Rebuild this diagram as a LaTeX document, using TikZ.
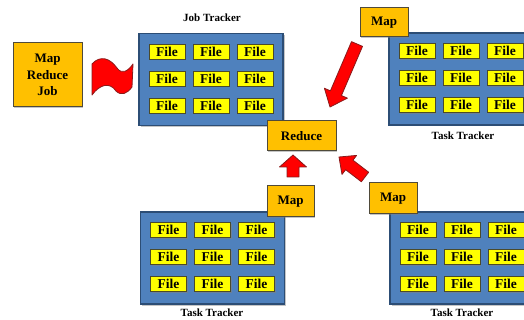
\documentclass[tikz,border=0pt]{standalone}
\usepackage{fontspec}
\setmainfont{Liberation Serif}
\usetikzlibrary{calc,shadows}
\definecolor{panelblue}{HTML}{4F81BD}
\definecolor{paneledge}{HTML}{2C4D75}
\definecolor{fileyellow}{HTML}{FFFF00}
\definecolor{fileedge}{HTML}{4A4A2A}
\definecolor{mapgold}{HTML}{FFC000}
\definecolor{mapedge}{HTML}{4F4A3A}
\definecolor{arrowred}{HTML}{FF0000}
\definecolor{arrowedge}{HTML}{8A1A1A}

\tikzset{
  panel/.style={draw=paneledge,line width=1.2pt,fill=panelblue,minimum width=144pt,
    minimum height=92pt,inner sep=0pt,
    drop shadow={shadow xshift=1.5pt,shadow yshift=-1.5pt,opacity=0.45}},
  filebox/.style={draw=fileedge,line width=0.8pt,fill=fileyellow,minimum width=36pt,
    minimum height=15pt,inner sep=0pt,font=\fontsize{13.5}{14}\selectfont\bfseries,
    drop shadow={shadow xshift=1.2pt,shadow yshift=-1.2pt,opacity=0.6}},
  mapbox/.style={draw=mapedge,line width=1pt,fill=mapgold,inner sep=0pt,align=center,
    font=\fontsize{13}{16.5}\selectfont\bfseries,
    drop shadow={shadow xshift=1.2pt,shadow yshift=-1.2pt,opacity=0.45}},
  tracker/.style={font=\fontsize{11}{12}\selectfont\bfseries},
  redarrow/.style={draw=arrowedge,line width=0.8pt,fill=arrowred,line join=round}
}

% block arrow: tail, tip, half shaft, half head, head length
\newcommand{\blockarrow}[5]{%
  \coordinate (ba-base) at ($(#2)!#5!(#1)$);
  \draw[redarrow] ($(#1)!#3!90:(#2)$) -- ($(ba-base)!#3!-90:(#1)$)
    -- ($(ba-base)!#4!-90:(#1)$) -- (#2) -- ($(ba-base)!#4!90:(#1)$)
    -- ($(ba-base)!#3!90:(#1)$) -- ($(#1)!#3!-90:(#2)$) -- cycle;}

\begin{document}
\begin{tikzpicture}[x=1pt,y=-1pt]
\useasboundingbox (0,0) rectangle (524,320);
\clip (0,0) rectangle (524,320);
\fill[white] (0,0) rectangle (524,320);

% trackers
\node[panel] (jobtr) at (211,79.5) {};
\node[panel] (task1) at (461,79) {};
\node[panel] (task2) at (212.5,258) {};
\node[panel] (task3) at (462,258) {};
\foreach \p in {jobtr,task1,task2,task3}
  \foreach \c in {1,2,3}
    \foreach \r in {1,2,3}
      \node[filebox] (\p-\r\c) at ($(\p)+(\c*44-88,\r*27-55)$) {File};

\node[tracker] (jobtrlabel) at (212,18) {Job Tracker};
\node[tracker] (task1label) at (463,136) {Task Tracker};
\node[tracker] (task2label) at (212,313) {Task Tracker};
\node[tracker] (task3label) at (462,313) {Task Tracker};

% job and map/reduce boxes
\node[mapbox,minimum width=69pt,minimum height=64pt] (job) at (47.5,75) {Map\\Reduce\\Job};
\node[mapbox,minimum width=48pt,minimum height=29pt] (map1) at (384,22.5) {Map};
\node[mapbox,minimum width=47pt,minimum height=31pt] (map2) at (290.5,201.5) {Map};
\node[mapbox,minimum width=48pt,minimum height=31pt] (map3) at (393,198.5) {Map};
\node[mapbox,minimum width=69pt,minimum height=30pt] (reduce) at (301.5,136) {Reduce};

% flag
\draw[redarrow] (92,64) .. controls (100,55) and (110,58) .. (117,68)
  .. controls (122,75) and (128,71) .. (133,64) -- (132,87)
  .. controls (127,94) and (121,96) .. (116,91)
  .. controls (110,82) and (100,84) .. (92,95) -- cycle;

% arrows
\coordinate (a1tail) at (357,44);
\coordinate (a1tip) at (330,107);
\coordinate (a2tail) at (293,177);
\coordinate (a2tip) at (293,155);
\coordinate (a3tail) at (365,177);
\coordinate (a3tip) at (339,157);
\blockarrow{a1tail}{a1tip}{6pt}{12.5pt}{15pt}
\blockarrow{a2tail}{a2tip}{6pt}{13.5pt}{12pt}
\blockarrow{a3tail}{a3tip}{6pt}{12pt}{13pt}
\end{tikzpicture}
\end{document}
